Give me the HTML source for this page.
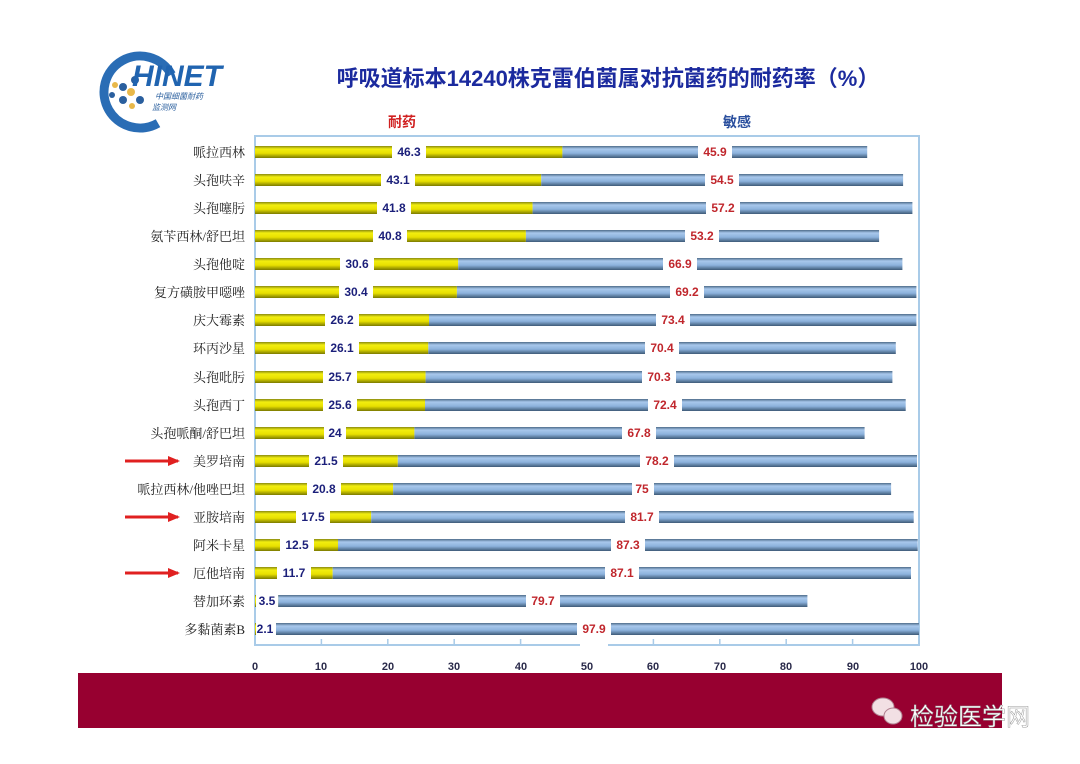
<!DOCTYPE html>
<html><head><meta charset="utf-8"><style>
body{margin:0;background:#fff;}
svg{display:block;font-family:"Liberation Sans","Noto Sans CJK SC",sans-serif;}
.n{font-family:"Liberation Serif","Noto Serif CJK SC",serif;font-size:13px;fill:#222;text-anchor:end;}
.r{font-size:12px;font-weight:bold;fill:#1b1f7a;text-anchor:middle;}
.s{font-size:12px;font-weight:bold;fill:#c0262c;text-anchor:middle;}
.t{font-size:11px;font-weight:bold;fill:#2a2a4a;text-anchor:middle;}
</style></head><body>
<svg width="1080" height="764" viewBox="0 0 1080 764">
<defs>
<linearGradient id="y" x1="0" y1="0" x2="0" y2="1"><stop offset="0" stop-color="#8a8a10"/><stop offset=".25" stop-color="#f2ee10"/><stop offset=".6" stop-color="#e8e000"/><stop offset="1" stop-color="#7a7a00"/></linearGradient>
<linearGradient id="b" x1="0" y1="0" x2="0" y2="1"><stop offset="0" stop-color="#4e6c8a"/><stop offset=".25" stop-color="#a8c8ec"/><stop offset=".6" stop-color="#8cb2dc"/><stop offset="1" stop-color="#3e5a78"/></linearGradient>
<marker id="ah" markerUnits="userSpaceOnUse" markerWidth="12" markerHeight="10" refX="10" refY="5" orient="auto"><path d="M0,0L12,5L0,10z" fill="#e02020"/></marker>
</defs>
<!-- logo -->
<circle cx="140" cy="92" r="36" fill="none" stroke="#2a6db5" stroke-width="9" stroke-dasharray="170 60" transform="rotate(60 140 92)"/>
<g fill="#2a5f9e"><circle cx="123" cy="87" r="4"/><circle cx="135" cy="80" r="4"/><circle cx="123" cy="100" r="4"/><circle cx="140" cy="100" r="4"/><circle cx="112" cy="95" r="3"/></g>
<g fill="#e8b84a"><circle cx="131" cy="92" r="4"/><circle cx="115" cy="85" r="3"/><circle cx="132" cy="106" r="3"/></g>
<text x="132" y="86" font-size="30" font-weight="bold" font-style="italic" fill="#2064b0">HINET</text>
<text x="155" y="99" font-size="8" fill="#2a5f9e" font-style="italic">中国细菌耐药</text>
<text x="152" y="110" font-size="8" fill="#2a5f9e" font-style="italic">监测网</text>
<text x="608" y="86" font-size="22" font-weight="bold" fill="#1b2a9e" text-anchor="middle">呼吸道标本14240株克雷伯菌属对抗菌药的耐药率（%）</text>
<text x="402" y="127" font-size="14" font-weight="bold" fill="#d02020" text-anchor="middle">耐药</text>
<text x="737" y="127" font-size="14" font-weight="bold" fill="#2a4f9e" text-anchor="middle">敏感</text>
<rect x="255" y="136" width="664" height="509" fill="none" stroke="#a9cbe8" stroke-width="2"/>
<g stroke="#a9cbe8" stroke-width="1.5">
<line x1="321.4" y1="639" x2="321.4" y2="645"/><line x1="387.8" y1="639" x2="387.8" y2="645"/><line x1="454.2" y1="639" x2="454.2" y2="645"/><line x1="520.6" y1="639" x2="520.6" y2="645"/><line x1="587" y1="639" x2="587" y2="645"/><line x1="653.4" y1="639" x2="653.4" y2="645"/><line x1="719.8" y1="639" x2="719.8" y2="645"/><line x1="786.2" y1="639" x2="786.2" y2="645"/><line x1="852.6" y1="639" x2="852.6" y2="645"/></g>
<g id="bars">
<rect x="255" y="146" width="307.4" height="12" fill="url(#y)"/><rect x="562.4" y="146" width="304.8" height="12" fill="url(#b)"/>
<rect x="255" y="174" width="286.2" height="12" fill="url(#y)"/><rect x="541.2" y="174" width="361.9" height="12" fill="url(#b)"/>
<rect x="255" y="202" width="277.6" height="12" fill="url(#y)"/><rect x="532.6" y="202" width="379.8" height="12" fill="url(#b)"/>
<rect x="255" y="230" width="270.9" height="12" fill="url(#y)"/><rect x="525.9" y="230" width="353.2" height="12" fill="url(#b)"/>
<rect x="255" y="258" width="203.2" height="12" fill="url(#y)"/><rect x="458.2" y="258" width="444.2" height="12" fill="url(#b)"/>
<rect x="255" y="286" width="201.9" height="12" fill="url(#y)"/><rect x="456.9" y="286" width="459.5" height="12" fill="url(#b)"/>
<rect x="255" y="314" width="174" height="12" fill="url(#y)"/><rect x="429" y="314" width="487.4" height="12" fill="url(#b)"/>
<rect x="255" y="342" width="173.3" height="12" fill="url(#y)"/><rect x="428.3" y="342" width="467.5" height="12" fill="url(#b)"/>
<rect x="255" y="371" width="170.6" height="12" fill="url(#y)"/><rect x="425.6" y="371" width="466.8" height="12" fill="url(#b)"/>
<rect x="255" y="399" width="170" height="12" fill="url(#y)"/><rect x="425" y="399" width="480.7" height="12" fill="url(#b)"/>
<rect x="255" y="427" width="159.4" height="12" fill="url(#y)"/><rect x="414.4" y="427" width="450.2" height="12" fill="url(#b)"/>
<rect x="255" y="455" width="142.8" height="12" fill="url(#y)"/><rect x="397.8" y="455" width="519.2" height="12" fill="url(#b)"/>
<rect x="255" y="483" width="138.1" height="12" fill="url(#y)"/><rect x="393.1" y="483" width="498" height="12" fill="url(#b)"/>
<rect x="255" y="511" width="116.2" height="12" fill="url(#y)"/><rect x="371.2" y="511" width="542.5" height="12" fill="url(#b)"/>
<rect x="255" y="539" width="83" height="12" fill="url(#y)"/><rect x="338" y="539" width="579.7" height="12" fill="url(#b)"/>
<rect x="255" y="567" width="77.7" height="12" fill="url(#y)"/><rect x="332.7" y="567" width="578.3" height="12" fill="url(#b)"/>
<rect x="255" y="595" width="23.2" height="12" fill="url(#y)"/><rect x="278.2" y="595" width="529.2" height="12" fill="url(#b)"/>
<rect x="255" y="623" width="13.9" height="12" fill="url(#y)"/><rect x="268.9" y="623" width="650.1" height="12" fill="url(#b)"/>
</g>
<g fill="#fff">
<rect x="392" y="144" width="34" height="16"/><rect x="698" y="144" width="34" height="16"/>
<rect x="381" y="172" width="34" height="16"/><rect x="705" y="172" width="34" height="16"/>
<rect x="377" y="200" width="34" height="16"/><rect x="706" y="200" width="34" height="16"/>
<rect x="373" y="228" width="34" height="16"/><rect x="685" y="228" width="34" height="16"/>
<rect x="340" y="256" width="34" height="16"/><rect x="663" y="256" width="34" height="16"/>
<rect x="339" y="284" width="34" height="16"/><rect x="670" y="284" width="34" height="16"/>
<rect x="325" y="312" width="34" height="16"/><rect x="656" y="312" width="34" height="16"/>
<rect x="325" y="340" width="34" height="16"/><rect x="645" y="340" width="34" height="16"/>
<rect x="323" y="369" width="34" height="16"/><rect x="642" y="369" width="34" height="16"/>
<rect x="323" y="397" width="34" height="16"/><rect x="648" y="397" width="34" height="16"/>
<rect x="324" y="425" width="22" height="16"/><rect x="622" y="425" width="34" height="16"/>
<rect x="309" y="453" width="34" height="16"/><rect x="640" y="453" width="34" height="16"/>
<rect x="307" y="481" width="34" height="16"/><rect x="632" y="481" width="22" height="16"/>
<rect x="296" y="509" width="34" height="16"/><rect x="625" y="509" width="34" height="16"/>
<rect x="280" y="537" width="34" height="16"/><rect x="611" y="537" width="34" height="16"/>
<rect x="277" y="565" width="34" height="16"/><rect x="605" y="565" width="34" height="16"/>
<rect x="256" y="593" width="22" height="16"/><rect x="526" y="593" width="34" height="16"/>
<rect x="256" y="621" width="20" height="16"/><rect x="577" y="621" width="34" height="16"/>
<rect x="580" y="637" width="28" height="10"/>
</g>
<g>
<text class="r" x="409" y="156">46.3</text><text class="r" x="398" y="184">43.1</text><text class="r" x="394" y="212">41.8</text><text class="r" x="390" y="240">40.8</text><text class="r" x="357" y="268">30.6</text><text class="r" x="356" y="296">30.4</text><text class="r" x="342" y="324">26.2</text><text class="r" x="342" y="352">26.1</text><text class="r" x="340" y="381">25.7</text><text class="r" x="340" y="409">25.6</text><text class="r" x="335" y="437">24</text><text class="r" x="326" y="465">21.5</text><text class="r" x="324" y="493">20.8</text><text class="r" x="313" y="521">17.5</text><text class="r" x="297" y="549">12.5</text><text class="r" x="294" y="577">11.7</text><text class="r" x="267" y="605">3.5</text><text class="r" x="265" y="633">2.1</text>
</g>
<g>
<text class="s" x="715" y="156">45.9</text><text class="s" x="722" y="184">54.5</text><text class="s" x="723" y="212">57.2</text><text class="s" x="702" y="240">53.2</text><text class="s" x="680" y="268">66.9</text><text class="s" x="687" y="296">69.2</text><text class="s" x="673" y="324">73.4</text><text class="s" x="662" y="352">70.4</text><text class="s" x="659" y="381">70.3</text><text class="s" x="665" y="409">72.4</text><text class="s" x="639" y="437">67.8</text><text class="s" x="657" y="465">78.2</text><text class="s" x="642" y="493">75</text><text class="s" x="642" y="521">81.7</text><text class="s" x="628" y="549">87.3</text><text class="s" x="622" y="577">87.1</text><text class="s" x="543" y="605">79.7</text><text class="s" x="594" y="633">97.9</text>
</g>
<g>
<text class="n" x="245" y="157">哌拉西林</text><text class="n" x="245" y="185">头孢呋辛</text><text class="n" x="245" y="213">头孢噻肟</text><text class="n" x="245" y="241">氨苄西林/舒巴坦</text><text class="n" x="245" y="269">头孢他啶</text><text class="n" x="245" y="297">复方磺胺甲噁唑</text><text class="n" x="245" y="325">庆大霉素</text><text class="n" x="245" y="353">环丙沙星</text><text class="n" x="245" y="382">头孢吡肟</text><text class="n" x="245" y="410">头孢西丁</text><text class="n" x="245" y="438">头孢哌酮/舒巴坦</text><text class="n" x="245" y="466">美罗培南</text><text class="n" x="245" y="494">哌拉西林/他唑巴坦</text><text class="n" x="245" y="522">亚胺培南</text><text class="n" x="245" y="550">阿米卡星</text><text class="n" x="245" y="578">厄他培南</text><text class="n" x="245" y="606">替加环素</text><text class="n" x="245" y="634">多黏菌素B</text>
</g>
<g stroke="#e02020" stroke-width="3" marker-end="url(#ah)">
<line x1="125" y1="461" x2="178" y2="461"/><line x1="125" y1="517" x2="178" y2="517"/><line x1="125" y1="573" x2="178" y2="573"/>
</g>
<g>
<text class="t" x="255" y="670">0</text><text class="t" x="321" y="670">10</text><text class="t" x="388" y="670">20</text><text class="t" x="454" y="670">30</text><text class="t" x="521" y="670">40</text><text class="t" x="587" y="670">50</text><text class="t" x="653" y="670">60</text><text class="t" x="720" y="670">70</text><text class="t" x="786" y="670">80</text><text class="t" x="853" y="670">90</text><text class="t" x="919" y="670">100</text>
</g>
<rect x="78" y="673" width="924" height="55" fill="#970030"/>
<g fill="#f2e0e4" stroke="#b08090" stroke-width="1"><ellipse cx="883" cy="707" rx="11" ry="9"/><ellipse cx="893" cy="716" rx="9" ry="8"/></g>
<text x="910" y="725" font-size="24" fill="#fff" stroke="#999" stroke-width=".5">检验医学网</text>
</svg>
</body></html>
